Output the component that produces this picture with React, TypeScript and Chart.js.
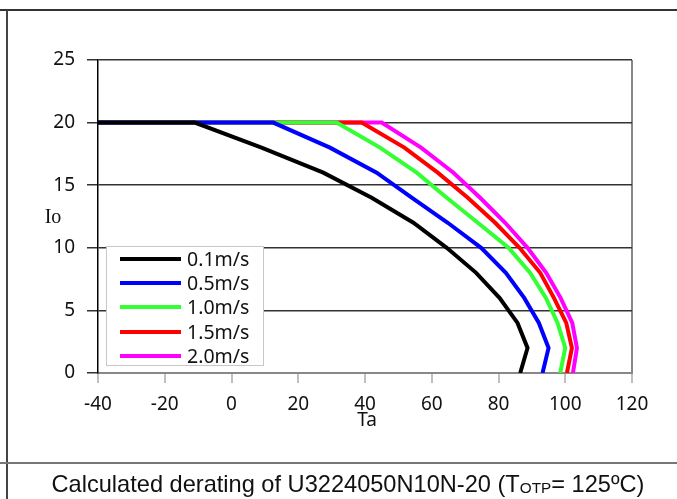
import React, { useEffect, useRef } from 'react';
import { Chart, registerables } from 'chart.js';

Chart.register(...registerables);

// Output current levels (A) shared by all curves
const ioLevels = [20, 20, 18, 16, 14, 12, 10, 8, 6, 4, 2, 0];
// Ambient temperature (°C) for each airflow
const ta01 = [-40, -11, 9, 27.5, 42, 54.5, 64.5, 73.3, 80.3, 85.7, 88.7, 86.5];
const ta05 = [-40, 12.5, 29.5, 43.5, 54, 64.8, 74.8, 82.2, 87.7, 92.1, 95, 93.2];
const ta10 = [-40, 31.5, 44.5, 55.5, 64.5, 73.8, 83, 89.5, 94.2, 97.7, 100, 98.5];
const ta15 = [-40, 39, 51.8, 61.8, 70.8, 79, 86.3, 92.5, 96.6, 100.3, 102, 100.5];
const ta20 = [-40, 45, 56.8, 66.5, 74.5, 82, 88.7, 94.3, 98.6, 102.1, 103.5, 102.3];

const seriesNames = ['0.1m/s', '0.5m/s', '1.0m/s', '1.5m/s', '2.0m/s'];
const seriesColors = ['#000000', '#0000ff', '#33ff33', '#ff0000', '#ff00ff'];
const seriesTa = [ta01, ta05, ta10, ta15, ta20];

const xTicks = [-40, -20, 0, 20, 40, 60, 80, 100, 120];
const yTicks = [0, 5, 10, 15, 20, 25];
const xTitle = 'Ta';
const yTitle = 'Io';
const captionMain = 'Calculated derating of U3224050N10N-20 (T';
const captionSub = 'OTP';
const captionEnd = '= 125ºC)';

const axisTitles = {
  id: 'axisTitles',
  afterDraw(chart: any) {
    const { ctx } = chart;
    const x = chart.scales.x;
    const y = chart.scales.y;
    ctx.save();
    ctx.fillStyle = '#111';
    ctx.textAlign = 'center';
    ctx.textBaseline = 'middle';
    ctx.font = '20px "Liberation Serif"';
    ctx.fillText(yTitle, 53, (y.top + y.bottom) / 2 + 1);
    ctx.font = '19px "Noto Sans"';
    ctx.fillText(xTitle, (x.left + x.right) / 2 + 2, 421);
    ctx.restore();
  },
};

export default function App() {
  const canvasRef = useRef<HTMLCanvasElement | null>(null);

  useEffect(() => {
    const canvas = canvasRef.current;
    if (!canvas) return;
    const datasets = seriesNames.map((name, i) => ({
      label: name,
      data: seriesTa[i].map((t, k) => ({ x: t, y: ioLevels[k] })),
      borderColor: seriesColors[i],
      backgroundColor: seriesColors[i],
      borderWidth: 4,
      showLine: true,
      pointRadius: 0,
      tension: 0,
      fill: false,
    }));
    const chart = new Chart(canvas, {
      type: 'scatter',
      data: { datasets },
      plugins: [axisTitles],
      options: {
        animation: false,
        responsive: false,
        maintainAspectRatio: false,
        devicePixelRatio: 1,
        layout: { padding: { left: 0, top: 60, right: 45, bottom: 0 } },
        plugins: {
          legend: { display: false },
          tooltip: { enabled: false },
          title: { display: false },
        },
        scales: {
          x: {
            type: 'linear',
            min: -40,
            max: 120,
            afterFit: (s: any) => { s.height = 126; },
            afterBuildTicks: (s: any) => { s.ticks = xTicks.map((v) => ({ value: v })); },
            ticks: {
              color: '#111',
              font: { family: '"Noto Sans"', size: 19 },
              padding: 10,
              maxRotation: 0,
              autoSkip: false,
            },
            grid: {
              color: (c: any) => (c.tick && c.tick.value === 120 ? '#888' : 'transparent'),
              lineWidth: 2,
              tickColor: '#aaa',
              tickLength: 10,
              tickWidth: 1.5,
            },
            border: { color: '#888', width: 2 },
          },
          y: {
            type: 'linear',
            min: 0,
            max: 25,
            afterFit: (s: any) => { s.width = 98; },
            afterBuildTicks: (s: any) => { s.ticks = yTicks.map((v) => ({ value: v })); },
            ticks: {
              color: '#111',
              font: { family: '"Noto Sans"', size: 19 },
              padding: 12,
              autoSkip: false,
            },
            grid: {
              color: (c: any) => (c.tick && c.tick.value === 0 ? 'transparent' : '#333'),
              lineWidth: 1.5,
              tickColor: '#333',
              tickLength: 11,
              tickWidth: 1.5,
            },
            border: { color: '#000', width: 1.5 },
          },
        },
      },
    });
    return () => chart.destroy();
  }, []);

  return (
    <div style={{ position: 'absolute', left: 0, top: 0, width: 677, height: 499, background: '#fff', overflow: 'hidden' }}>
      <div style={{ position: 'absolute', left: 0, top: 9, width: 677, height: 2, background: '#333' }} />
      <div style={{ position: 'absolute', left: 6, top: 10, width: 2, height: 489, background: '#444' }} />
      <div style={{ position: 'absolute', left: 0, top: 462, width: 677, height: 2, background: '#777' }} />
      <canvas ref={canvasRef} width={677} height={499} style={{ position: 'absolute', left: 0, top: 0, width: 677, height: 499 }} />
      <div
        style={{
          position: 'absolute', left: 106, top: 246, width: 158, height: 120,
          border: '1px solid #c8c8c8', background: '#fff', boxSizing: 'border-box',
        }}
      >
        {seriesNames.map((name, i) => (
          <div key={name} style={{ position: 'absolute', left: 0, top: 0 + i * 24.2, width: 158, height: 24 }}>
            <div style={{ position: 'absolute', left: 13, top: 10, width: 61, height: 4, background: seriesColors[i] }} />
            <div
              style={{
                position: 'absolute', left: 80, top: 0, height: 24, lineHeight: '24px',
                fontFamily: '"Noto Sans"', fontSize: 19.5, color: '#111', whiteSpace: 'nowrap',
              }}
            >
              {name}
            </div>
          </div>
        ))}
      </div>
      <div
        style={{
          position: 'absolute', left: 0, top: 472, width: 696, textAlign: 'center',
          fontFamily: '"Liberation Sans", Arial, sans-serif', fontSize: 23.6, lineHeight: '24px',
          color: '#111', whiteSpace: 'nowrap',
        }}
      >
        {captionMain}
        <span style={{ fontSize: '0.65em', position: 'relative', top: 1 }}>{captionSub}</span>
        {captionEnd}
      </div>
    </div>
  );
}
